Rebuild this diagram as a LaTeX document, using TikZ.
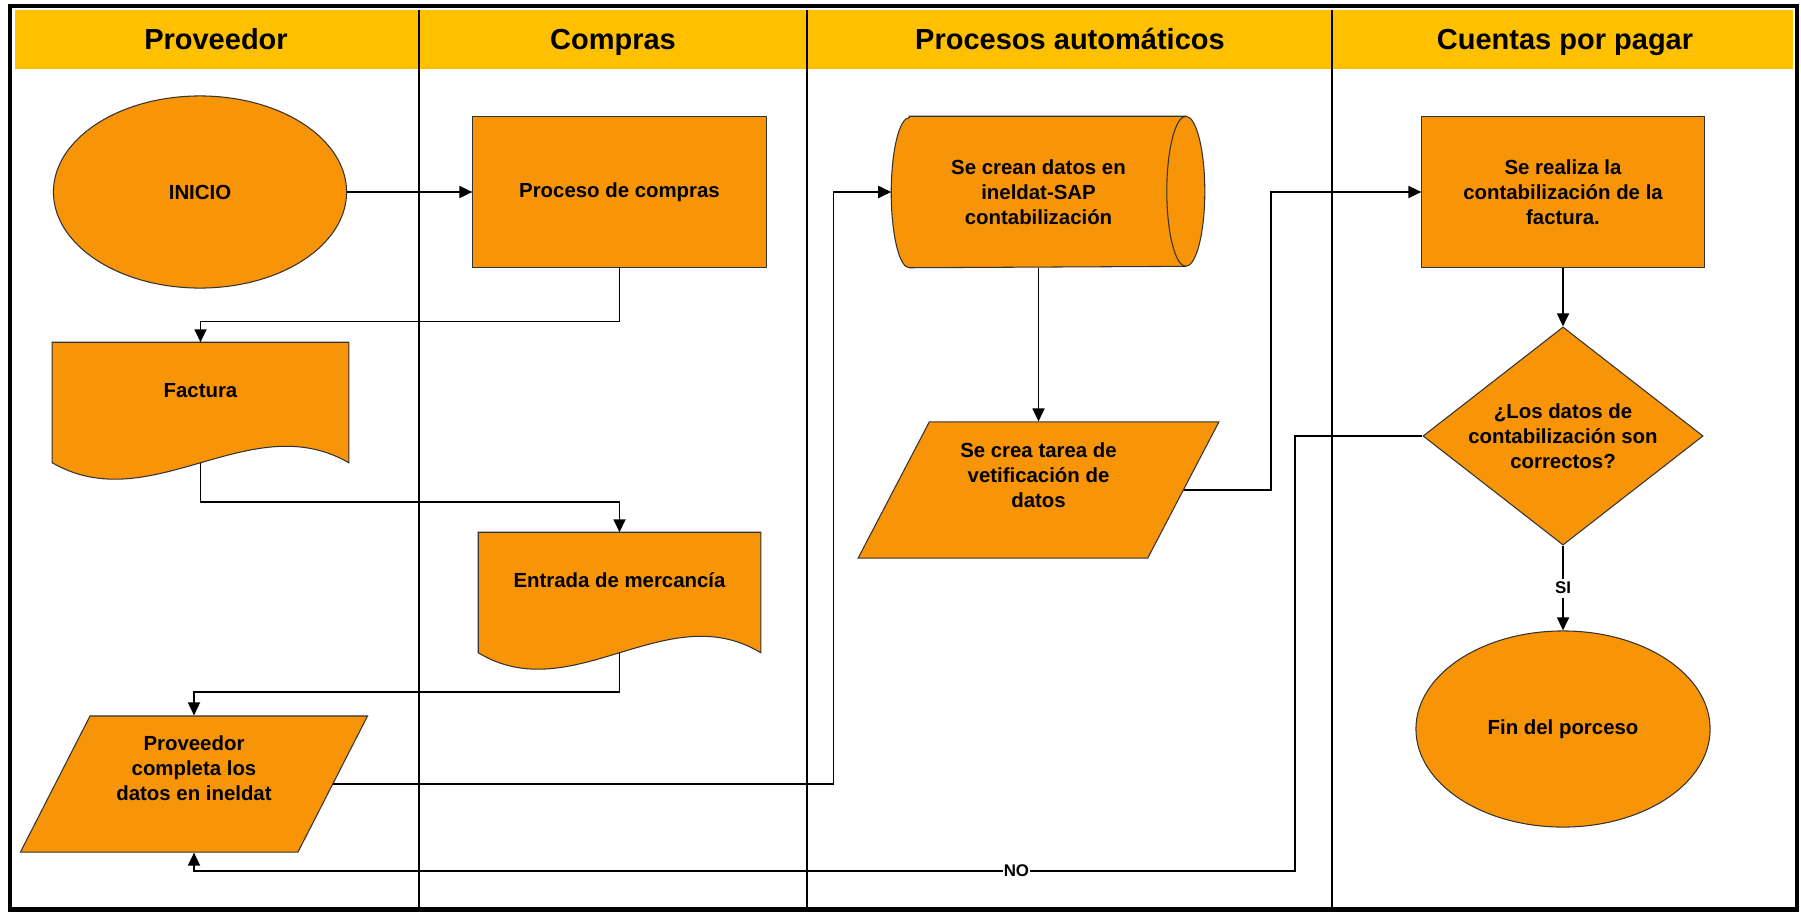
\documentclass[tikz,border=0pt]{standalone}
\usepackage{fontspec}
\setmainfont{Liberation Sans}
\usetikzlibrary{shapes.geometric,arrows.meta,calc,backgrounds}

\definecolor{flowfill}{RGB}{248,148,8}
\definecolor{headfill}{RGB}{255,192,0}

\newcommand{\lifttext}[2]{\raisebox{0pt}[\height][\dimexpr\depth+#1\relax]{\begin{tabular}{@{}c@{}}#2\end{tabular}}}

\begin{document}
\begin{tikzpicture}[x=0.01cm,y=-0.01cm,>={Triangle[length=0.13cm,width=0.12cm]},
    shapeline/.style={draw=black!80,line width=0.3pt,fill=flowfill},
    txt/.style={font=\fontsize{5.8}{7.1}\selectfont\bfseries,align=center,inner sep=0pt},
    proc/.style={shapeline,txt,rectangle,minimum height=1.5cm},
    term/.style={shapeline,txt,ellipse},
    inout/.style={shapeline,txt,trapezium,trapezium left angle=63,trapezium right angle=117,trapezium stretches=true,minimum height=1.36cm},
    docu/.style={txt,rectangle,minimum height=1.19cm},
    conn/.style={->,line width=0.5pt},
    lbl/.style={font=\fontsize{4.8}{5.8}\selectfont\bfseries,fill=white,inner xsep=0.3pt,inner ysep=1pt},
    lanehead/.style={font=\fontsize{8.25}{10}\selectfont\bfseries,anchor=base}]
  \useasboundingbox (0,0) rectangle (1801,912);
  \fill[headfill] (15,10) rectangle (1793,69);
  \foreach \x in {419,807,1332}
    \draw[line width=0.7pt] (\x,10) -- (\x,909);
  \draw[line width=0.045cm] (10,6) rectangle (1797,909.5);
  \foreach \x/\t/\n in {216/Proveedor/hprov,613/Compras/hcomp,1070/Procesos automáticos/hauto,1565/Cuentas por pagar/hctas}
    \node[lanehead] (\n) at (\x,49.5) {\t};

  \node[term,minimum width=2.93cm,minimum height=1.92cm] (inicio) at (200,192) {INICIO};
  \node[proc,minimum width=2.93cm] (compras) at (619.5,192) {Proceso de compras};
  \node[docu,minimum width=2.95cm] (fact) at (200.5,402.5) {\lifttext{0.19cm}{Factura}};
  \node[docu,minimum width=2.81cm] (entr) at (619.5,592.5) {\lifttext{0.19cm}{Entrada de mercancía}};
  \node[inout,minimum width=3.49cm] (prov) at (194,784) {\lifttext{0.27cm}{Proveedor\\completa los\\datos en ineldat}};
  \node[txt,minimum width=2.93cm,minimum height=1.5cm] (sap) at (1038.5,192) {Se crean datos en\\ineldat-SAP\\contabilización};
  \node[inout,minimum width=3.61cm] (tarea) at (1038.5,490) {\lifttext{0.25cm}{Se crea tarea de\\vetificación de\\datos}};
  \node[proc,minimum width=2.82cm] (real) at (1563,192) {Se realiza la\\contabilización de la\\factura.};
  \node[shapeline,txt,diamond,aspect=1.28,minimum width=2.8cm,minimum height=2.18cm] (dec) at (1563,436) {¿Los datos de\\contabilización son\\correctos?};
  \node[term,minimum width=2.94cm,minimum height=1.96cm] (fin) at (1563,729) {Fin del porceso};

  \begin{scope}[on background layer]
    \foreach \d in {fact,entr}
      \path[shapeline] (\d.north west) -- (\d.north east) -- (\d.south east)
        .. controls ($(\d.south east)!0.333!(\d.south west)+(0,-57)$) and ($(\d.south east)!0.667!(\d.south west)+(0,57)$) .. (\d.south west) -- cycle;
    \path[shapeline] ([xshift=0.18cm]sap.north west) -- (sap.north east)
      arc[start angle=90,end angle=-90,x radius=0.19cm,y radius=0.75cm]
      -- ([xshift=0.18cm]sap.south west)
      arc[start angle=270,end angle=90,x radius=0.18cm,y radius=0.75cm] -- cycle;
    \draw[draw=black!80,line width=0.3pt] (sap.north east) arc[start angle=90,end angle=270,x radius=0.19cm,y radius=0.75cm];
  \end{scope}

  \draw[conn] (inicio.east) -- (compras.west);
  \draw[conn] (compras.south) -- ++(0,54) -| (fact.north);
  \draw[conn] (fact.south) -- ++(0,39) -| (entr.north);
  \draw[conn] (entr.south) -- ++(0,39) -| (prov.north -| prov.center);
  \draw[conn] (prov.east) -- ++(500,0) |- (sap.west);
  \draw[conn] (sap.south) -- (tarea.center |- tarea.north);
  \draw[conn] (tarea.east) -- ++(87,0) |- (real.west);
  \draw[conn] (real.south) -- (dec.north);
  \draw[conn] (dec.south) -- node[lbl] {SI} (fin.north);
  \coordinate (noturn) at (1295,871);
  \draw[conn] (dec.west) -| (noturn) -- node[lbl,pos=0.253] {NO} (noturn -| prov.center) -- (prov.center |- prov.south);
\end{tikzpicture}
\end{document}
